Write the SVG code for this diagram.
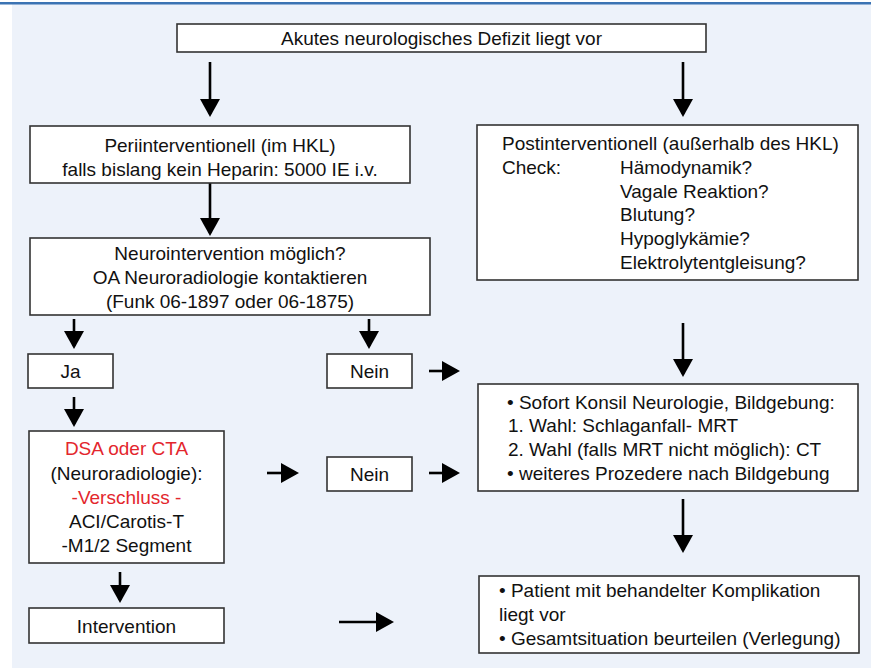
<svg xmlns="http://www.w3.org/2000/svg" width="871" height="668" viewBox="0 0 871 668">
<defs>
<style>
.box{fill:#ffffff;stroke:#333333;stroke-width:1.6}
.t{font-family:"Liberation Sans",Arial,sans-serif;font-size:19px;fill:#111111}
.c{text-anchor:middle}
.red{fill:#e3262d}
.arr{stroke:#000000;stroke-width:2.6;fill:none;marker-end:url(#ah)}
</style>
<marker id="ah" markerUnits="userSpaceOnUse" markerWidth="18" markerHeight="20" refX="15" refY="10" orient="auto">
<path d="M0,0 L18,10 L0,20 Z" fill="#000000"/>
</marker>
</defs>
<rect x="0" y="0" width="871" height="668" fill="#ffffff"/>
<rect x="12" y="4" width="859" height="664" fill="#edf2fa"/>
<rect x="0" y="2" width="871" height="2.5" fill="#3b73b3"/>

<g id="connectors">
<line class="arr" x1="210" y1="62" x2="210" y2="114"/>
<line class="arr" x1="683" y1="62" x2="683" y2="114"/>
<line class="arr" x1="210" y1="183" x2="210" y2="233"/>
<line class="arr" x1="74" y1="319" x2="74" y2="346"/>
<line class="arr" x1="369" y1="319" x2="369" y2="346"/>
<line class="arr" x1="429" y1="371" x2="457" y2="371"/>
<line class="arr" x1="74" y1="397" x2="74" y2="424"/>
<line class="arr" x1="267" y1="473" x2="296" y2="473"/>
<line class="arr" x1="429" y1="473" x2="457" y2="473"/>
<line class="arr" x1="120" y1="572" x2="120" y2="600"/>
<line class="arr" x1="339" y1="622" x2="391" y2="622"/>
<line class="arr" x1="683" y1="323" x2="683" y2="374"/>
<line class="arr" x1="683" y1="499" x2="683" y2="550"/>
</g>

<g id="start">
<rect class="box" x="177" y="24" width="529" height="28"/>
<text class="t c" x="441.5" y="45">Akutes neurologisches Defizit liegt vor</text>
</g>

<g id="peri">
<rect class="box" x="30" y="126" width="380" height="57"/>
<text class="t c" x="220" y="152">Periinterventionell (im HKL)</text>
<text class="t c" x="220" y="176">falls bislang kein Heparin: 5000 IE i.v.</text>
</g>

<g id="neuro">
<rect class="box" x="30" y="238" width="400" height="77"/>
<text class="t c" x="230" y="260">Neurointervention möglich?</text>
<text class="t c" x="230" y="284">OA Neuroradiologie kontaktieren</text>
<text class="t c" x="230" y="308">(Funk 06-1897 oder 06-1875)</text>
</g>

<g id="post">
<rect class="box" x="477" y="125" width="381" height="155"/>
<text class="t" x="502" y="150">Postinterventionell (außerhalb des HKL)</text>
<text class="t" x="502" y="174">Check:</text>
<text class="t" x="620" y="174">Hämodynamik?</text>
<text class="t" x="620" y="198">Vagale Reaktion?</text>
<text class="t" x="620" y="221">Blutung?</text>
<text class="t" x="620" y="245">Hypoglykämie?</text>
<text class="t" x="620" y="269">Elektrolytentgleisung?</text>
</g>

<g id="ja">
<rect class="box" x="28" y="354" width="85" height="34"/>
<text class="t c" x="70.5" y="378">Ja</text>
</g>

<g id="nein1">
<rect class="box" x="327" y="354" width="85" height="34"/>
<text class="t c" x="369.5" y="378">Nein</text>
</g>

<g id="dsa">
<rect class="box" x="29" y="431" width="195" height="132"/>
<text class="t c red" x="126.5" y="455">DSA oder CTA</text>
<text class="t c" x="126.5" y="480">(Neuroradiologie):</text>
<text class="t c red" x="126.5" y="504">-Verschluss -</text>
<text class="t c" x="126.5" y="528">ACI/Carotis-T</text>
<text class="t c" x="126.5" y="552">-M1/2 Segment</text>
</g>

<g id="nein2">
<rect class="box" x="327" y="457" width="85" height="34"/>
<text class="t c" x="369.5" y="481">Nein</text>
</g>

<g id="intervention">
<rect class="box" x="29" y="608" width="195" height="35"/>
<text class="t c" x="126.5" y="633">Intervention</text>
</g>

<g id="sofort">
<rect class="box" x="478" y="384" width="380" height="107"/>
<text class="t" x="507" y="409">• Sofort Konsil Neurologie, Bildgebung:</text>
<text class="t" x="508" y="432">1. Wahl: Schlaganfall- MRT</text>
<text class="t" x="508" y="456">2. Wahl (falls MRT nicht möglich): CT</text>
<text class="t" x="507" y="480">• weiteres Prozedere nach Bildgebung</text>
</g>

<g id="patient">
<rect class="box" x="479" y="576" width="380" height="77"/>
<text class="t" x="499" y="597">• Patient mit behandelter Komplikation</text>
<text class="t" x="499" y="621">liegt vor</text>
<text class="t" x="499" y="645">• Gesamtsituation beurteilen (Verlegung)</text>
</g>
</svg>
